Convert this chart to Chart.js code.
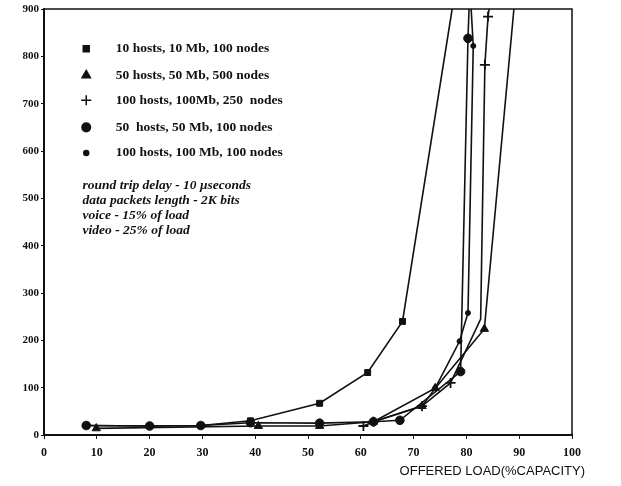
<!DOCTYPE html>
<html>
<head>
<meta charset="utf-8">
<script src="https://cdn.jsdelivr.net/npm/chart.js@4.4.1/dist/chart.umd.min.js"></script>
<style>
    html, body { margin: 0; padding: 0; background: #fff; }
    #wrap { width: 621px; height: 486px; }
</style>
</head>
<body>
<div id="wrap"><canvas id="delayChart" width="621" height="486"></canvas></div>
<script>
// offered load (% capacity) vs delay
const xTicks = [0, 10, 20, 30, 40, 50, 60, 70, 80, 90, 100];
const yTicks = [0, 100, 200, 300, 400, 500, 600, 700, 800, 900];

const seriesNames = [
    '10 hosts, 10 Mb, 100 nodes',
    '50 hosts, 50 Mb, 500 nodes',
    '100 hosts, 100Mb, 250  nodes',
    '50  hosts, 50 Mb, 100 nodes',
    '100 hosts, 100 Mb, 100 nodes'
];

const hosts10X = [8, 20, 29.7, 39.1, 52.2, 61.3, 67.9, 77.3];
const hosts10Y = [20, 19, 20, 30, 67, 132, 240, 900];

const hosts50bigX = [9.9, 40.6, 52.2, 62.4, 71.6, 74.1, 83.4, 89];
const hosts50bigY = [14, 19, 19, 28, 61, 99, 224, 900];

const hosts100midX = [60.5, 62.4, 71.6, 77, 82.7, 83.5, 84.1, 84.3];
const hosts100midY = [19, 28, 61, 110, 245, 782, 884, 900];

const hosts50X = [8, 20, 29.7, 39.1, 52.2, 62.4, 67.4, 78.9, 80.3, 80.5];
const hosts50Y = [20, 19, 20, 26, 25, 28, 31, 134, 838, 900];

const hosts100X = [62.4, 74.1, 78.7, 80.3, 81.3, 80.9];
const hosts100Y = [28, 99, 198, 258, 822, 900];

const notes = [
    'round trip delay - 10 \u03bcseconds',
    'data packets length - 2K bits',
    'voice - 15% of load',
    'video - 25% of load'
];

function pts(xs, ys) {
    return xs.map((x, i) => ({ x: x, y: ys[i] }));
}

// no marker where the line only runs off the top or bends
function radii(n, r, hidden) {
    return Array.from({ length: n }, (_, i) => hidden.includes(i) ? 0 : r);
}

const markers = [
    { style: 'rect', r: 4.2 },
    { style: 'triangle', r: 4.8 },
    { style: 'cross', r: 5 },
    { style: 'circle', r: 4.3 },
    { style: 'circle', r: 2.5 }
];

const rawSeries = [
    [hosts10X, hosts10Y, [7]],
    [hosts50bigX, hosts50bigY, [7]],
    [hosts100midX, hosts100midY, [4, 7]],
    [hosts50X, hosts50Y, [9]],
    [hosts100X, hosts100Y, [5]]
];

const datasets = rawSeries.map((s, i) => ({
    label: seriesNames[i],
    data: pts(s[0], s[1]),
    borderColor: '#111',
    backgroundColor: '#111',
    borderWidth: 1.6,
    pointStyle: markers[i].style,
    pointRadius: radii(s[0].length, markers[i].r, s[2]),
    pointBorderWidth: markers[i].style === 'cross' ? 1.8 : 1,
    pointHoverRadius: 0,
    tension: 0
}));

const serif = '"Liberation Serif", "DejaVu Serif", serif';

const overlay = {
    id: 'overlay',
    afterDraw(chart) {
        const ctx = chart.ctx;
        const area = chart.chartArea;
        const xs = chart.scales.x;
        const ys = chart.scales.y;
        ctx.save();

        // top and right side of the frame
        ctx.strokeStyle = '#111';
        ctx.lineWidth = 1.5;
        ctx.beginPath();
        ctx.moveTo(area.left, area.top);
        ctx.lineTo(area.right, area.top);
        ctx.lineTo(area.right, area.bottom);
        ctx.stroke();

        // key in the upper left
        const keyX = xs.getPixelForValue(8);
        const textX = xs.getPixelForValue(13.6);
        const rowY = [816, 760, 707, 650, 596];
        ctx.fillStyle = '#111';
        ctx.font = 'bold 13.5px ' + serif;
        ctx.textBaseline = 'middle';
        rowY.forEach((v, i) => {
            const y = ys.getPixelForValue(v);
            Chart.helpers.drawPoint(ctx, {
                pointStyle: markers[i].style,
                radius: markers[i].r,
                borderWidth: markers[i].style === 'cross' ? 1.8 : 1
            }, keyX, y);
            ctx.fillText(seriesNames[i], textX, y);
        });

        // test conditions
        ctx.font = 'italic bold 13.5px ' + serif;
        const noteY = [528, 496, 464, 432];
        notes.forEach((t, i) => {
            ctx.fillText(t, xs.getPixelForValue(7.3), ys.getPixelForValue(noteY[i]));
        });

        // axis title, right aligned under the axis
        ctx.font = '13px "Liberation Sans", Arial, sans-serif';
        ctx.textAlign = 'right';
        ctx.fillText('OFFERED LOAD(%CAPACITY)', area.right + 13, area.bottom + 36);
        ctx.restore();
    }
};

new Chart(document.getElementById('delayChart'), {
    type: 'line',
    data: { datasets: datasets },
    options: {
        responsive: false,
        animation: false,
        layout: { padding: { top: 9, right: 49, left: 0, bottom: 0 } },
        plugins: {
            legend: { display: false },
            tooltip: { enabled: false }
        },
        scales: {
            x: {
                type: 'linear',
                min: 0,
                max: 100,
                afterBuildTicks: axis => { axis.ticks = xTicks.map(v => ({ value: v })); },
                afterFit: axis => { axis.height = 51; },
                border: { color: '#111', width: 2 },
                grid: { drawOnChartArea: false, drawTicks: true, tickLength: 4, color: '#111' },
                ticks: {
                    color: '#111',
                    padding: 7,
                    maxRotation: 0,
                    font: { family: serif, size: 12, weight: 'bold' }
                }
            },
            y: {
                type: 'linear',
                min: 0,
                max: 900,
                afterBuildTicks: axis => { axis.ticks = yTicks.map(v => ({ value: v })); },
                afterFit: axis => { axis.width = 44; },
                border: { color: '#111', width: 2 },
                grid: { drawOnChartArea: false, drawTicks: true, tickLength: 3, color: '#111' },
                ticks: {
                    color: '#111',
                    padding: 2,
                    font: { family: serif, size: 11, weight: 'bold' }
                }
            }
        }
    },
    plugins: [overlay]
});
</script>
</body>
</html>
